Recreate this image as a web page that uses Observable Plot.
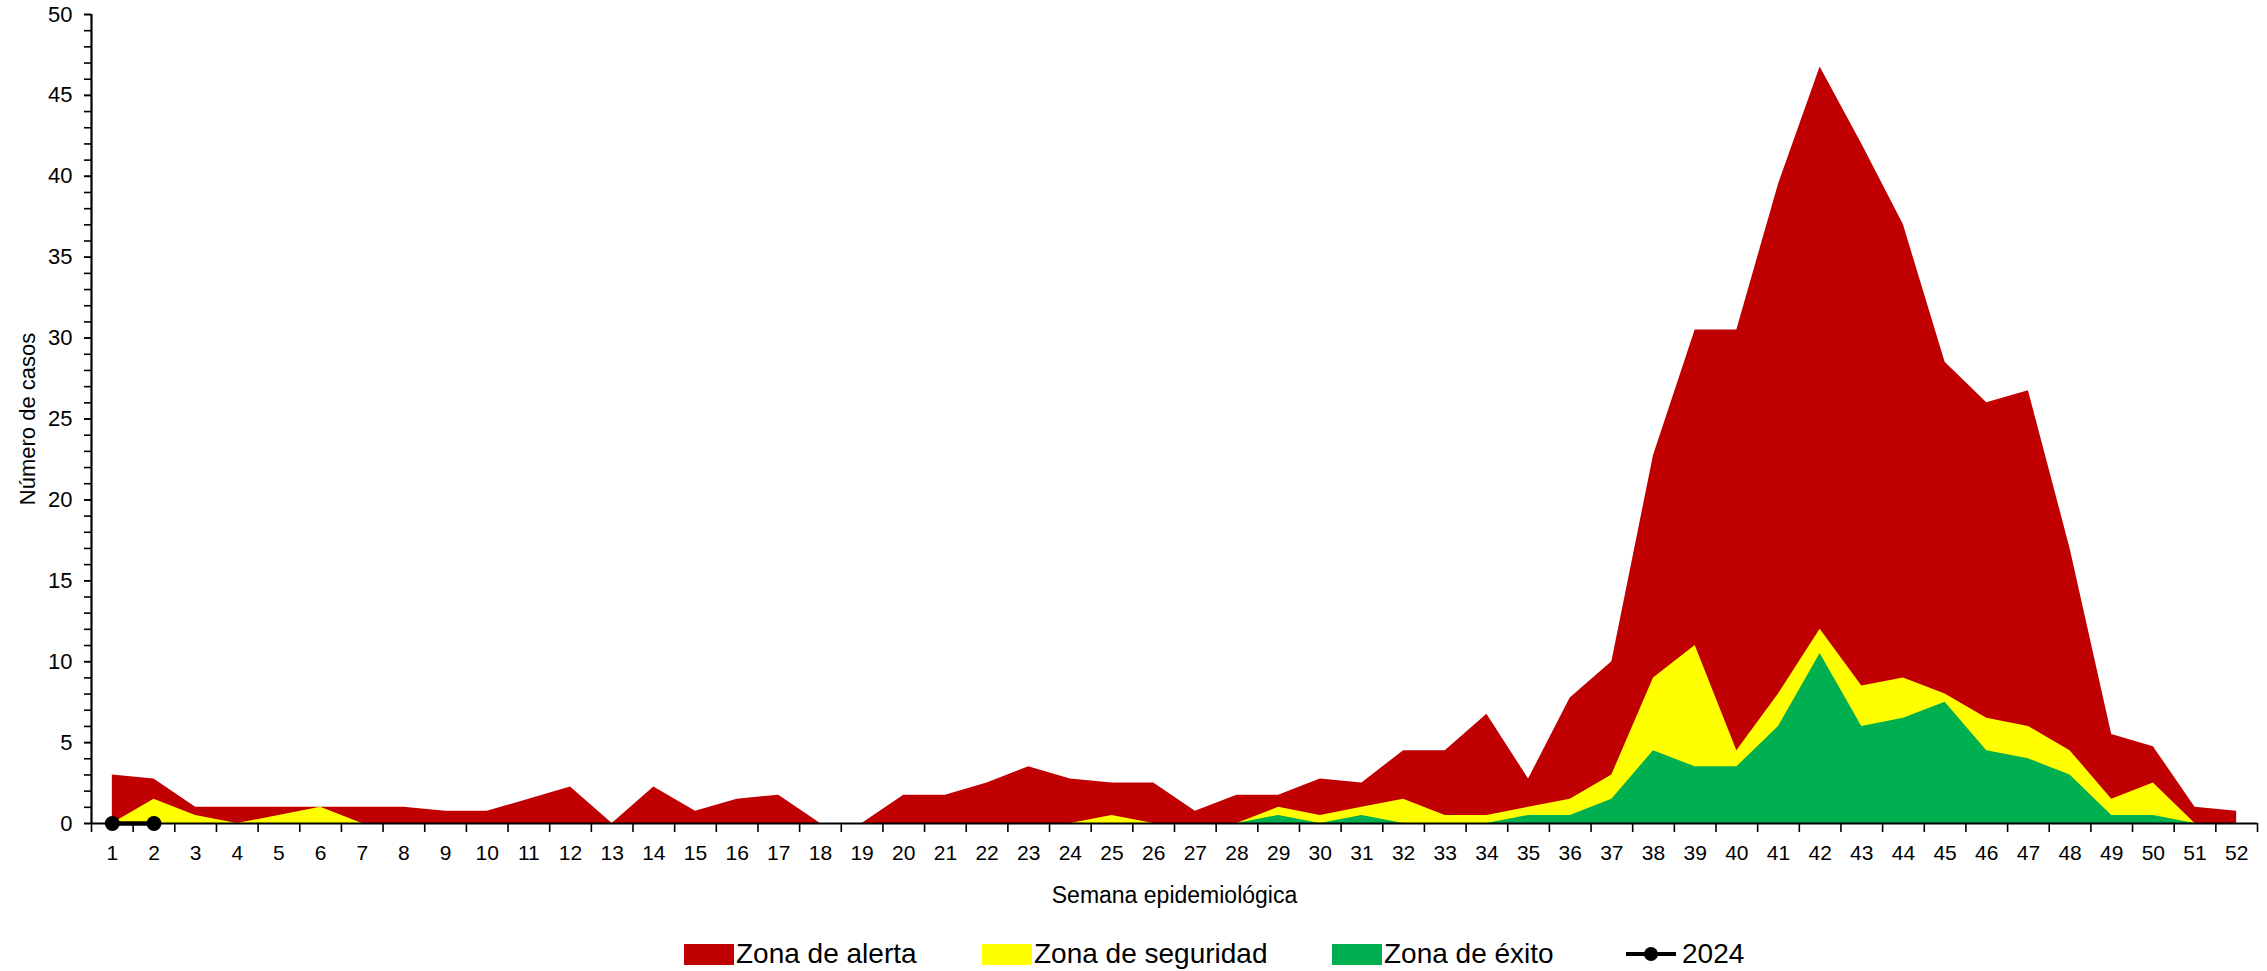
<!DOCTYPE html>
<html>
<head>
<meta charset="utf-8">
<script src="https://cdn.jsdelivr.net/npm/d3@7"></script>
<script src="https://cdn.jsdelivr.net/npm/@observablehq/plot@0.6"></script>
<style>
  html, body { margin: 0; padding: 0; background: #fff; }
  #wrap { width: 2267px; height: 971px; position: relative; font-family: "Liberation Sans", Arial, sans-serif; }
  #legend { position: absolute; left: 0; top: 0; width: 2267px; height: 971px; pointer-events: none; }
  .item { position: absolute; top: 939px; height: 30px; display: flex; align-items: center; font-size: 28px; color: #000; white-space: nowrap; }
  .sw { width: 50px; height: 21px; margin-right: 2px; }
</style>
</head>
<body>
<div id="wrap"></div>
<script>
// ---- Data ----
const weeks = [1,2,3,4,5,6,7,8,9,10,11,12,13,14,15,16,17,18,19,20,21,22,23,24,25,26,
               27,28,29,30,31,32,33,34,35,36,37,38,39,40,41,42,43,44,45,46,47,48,49,50,51,52];
const zonaAlerta = [3,2.75,1,1,1,1,1,1,0.75,0.75,1.5,2.25,0,2.25,0.75,1.5,1.75,0,0,1.75,1.75,2.5,3.5,2.75,2.5,2.5,
                    0.75,1.75,1.75,2.75,2.5,4.5,4.5,6.75,2.75,7.75,10,22.75,30.5,30.5,39.5,46.75,42,37,28.5,26,26.75,17,5.5,4.75,1,0.75];
const zonaSeguridad = [0,1.5,0.5,0,0.5,1,0,0,0,0,0,0,0,0,0,0,0,0,0,0,0,0,0,0,0.5,0,
                       0,0,1,0.5,1,1.5,0.5,0.5,1,1.5,3,9,11,4.5,8,12,8.5,9,8,6.5,6,4.5,1.5,2.5,0,0];
const zonaExito = [0,0,0,0,0,0,0,0,0,0,0,0,0,0,0,0,0,0,0,0,0,0,0,0,0,0,
                   0,0,0.5,0,0.5,0,0,0,0.5,0.5,1.5,4.5,3.5,3.5,6,10.5,6,6.5,7.5,4.5,4,3,0.5,0.5,0,0];
const weeks2024 = [1,2];
const casos2024 = [0,0];
const yMajorTicks = [0,5,10,15,20,25,30,35,40,45,50];
const yMinorTicks = [0,1,2,3,4,5,6,7,8,9,10,11,12,13,14,15,16,17,18,19,20,21,22,23,24,25,
                     26,27,28,29,30,31,32,33,34,35,36,37,38,39,40,41,42,43,44,45,46,47,48,49,50];
const seriesNames = ["Zona de alerta","Zona de seguridad","Zona de éxito","2024"];
const seriesColors = ["#C00000","#FFFF00","#00B050","#000000"];

// ---- Tables built from the arrays ----
const table = weeks.map((w,i) => ({week: w, alerta: zonaAlerta[i], seguridad: zonaSeguridad[i], exito: zonaExito[i]}));
const table2024 = weeks2024.map((w,i) => ({week: w, casos: casos2024[i]}));
const boundaries = [0.5].concat(weeks.map(w => w + 0.5));

const chart = Plot.plot({
  width: 2267,
  height: 915,
  marginLeft: 91,
  marginRight: 10,
  marginTop: 14,
  marginBottom: 92,
  style: {fontFamily: "'Liberation Sans', Arial, sans-serif", fontSize: "21px", color: "#000", background: "#fff", overflow: "visible"},
  x: {domain: [0.5, 52.5], label: null},
  y: {domain: [0, 50], label: null},
  marks: [
    Plot.areaY(table, {x: "week", y: "alerta", fill: seriesColors[0]}),
    Plot.areaY(table, {x: "week", y: "seguridad", fill: seriesColors[1]}),
    Plot.areaY(table, {x: "week", y: "exito", fill: seriesColors[2]}),
    Plot.axisY({ticks: yMinorTicks, tickSize: 7, tickFormat: () => "", stroke: "#000", strokeWidth: 1.6, label: null}),
    Plot.axisY({ticks: yMajorTicks, tickSize: 7, tickPadding: 12, stroke: "#000", strokeWidth: 1.6, fontSize: 22,
                label: "Número de casos", labelAnchor: "center", labelArrow: "none", labelOffset: 72}),
    Plot.axisX({ticks: boundaries, tickSize: 9, tickFormat: () => "", stroke: "#000", strokeWidth: 1.6, label: null}),
    Plot.axisX({ticks: weeks, tickSize: 0, tickPadding: 22, fontSize: 21, label: null}),
    Plot.ruleY([0], {stroke: "#000", strokeWidth: 2.2}),
    Plot.ruleX([0.5], {stroke: "#000", strokeWidth: 2.2}),
    Plot.line(table2024, {x: "week", y: "casos", stroke: seriesColors[3], strokeWidth: 4.5}),
    Plot.dot(table2024, {x: "week", y: "casos", r: 7.5, fill: seriesColors[3], stroke: "none"}),
    Plot.text(["Semana epidemiológica"], {frameAnchor: "bottom", dy: 72, lineAnchor: "middle", fontSize: 23, fill: "#000"})
  ]
});
const wrap = document.getElementById("wrap");
wrap.appendChild(chart);

// ---- Legend (HTML, below the SVG) ----
const legend = document.createElement("div");
legend.id = "legend";
const lefts = [684, 982, 1332, 1624];
seriesNames.forEach((name, i) => {
  const it = document.createElement("div");
  it.className = "item";
  it.style.left = lefts[i] + "px";
  if (i < 3) {
    const sw = document.createElement("div");
    sw.className = "sw";
    sw.style.background = seriesColors[i];
    it.appendChild(sw);
  } else {
    const ns = "http://www.w3.org/2000/svg";
    const s = document.createElementNS(ns, "svg");
    s.setAttribute("width", "54"); s.setAttribute("height", "24");
    s.style.marginRight = "4px";
    const l = document.createElementNS(ns, "line");
    l.setAttribute("x1", "2"); l.setAttribute("x2", "52"); l.setAttribute("y1", "12"); l.setAttribute("y2", "12");
    l.setAttribute("stroke", seriesColors[i]); l.setAttribute("stroke-width", "4");
    const c = document.createElementNS(ns, "circle");
    c.setAttribute("cx", "27"); c.setAttribute("cy", "12"); c.setAttribute("r", "7"); c.setAttribute("fill", seriesColors[i]);
    s.appendChild(l); s.appendChild(c);
    it.appendChild(s);
  }
  const t = document.createElement("span");
  t.textContent = name;
  it.appendChild(t);
  legend.appendChild(it);
});
wrap.appendChild(legend);
</script>
</body>
</html>
